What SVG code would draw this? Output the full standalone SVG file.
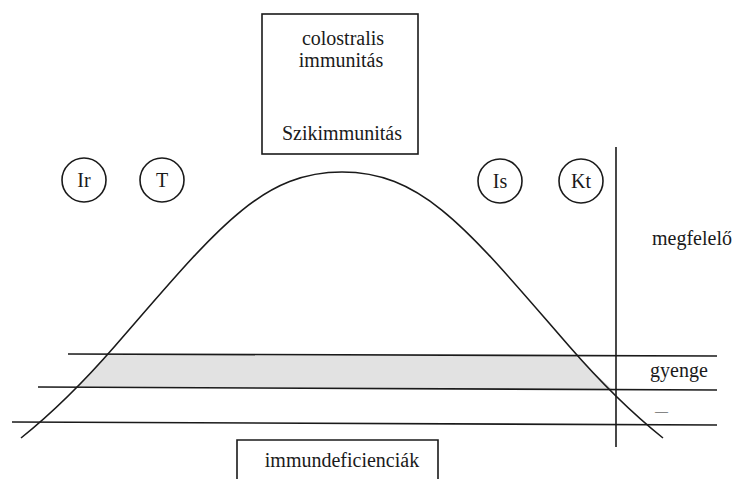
<svg xmlns="http://www.w3.org/2000/svg" width="738" height="479" viewBox="0 0 738 479">
<style>
.ln{fill:none;stroke:#1a1a1a;stroke-width:1.6}
.bx{fill:#fff;stroke:#1a1a1a;stroke-width:1.6}
.t{font-family:"Liberation Serif","Times New Roman",serif;font-size:20px;fill:#1a1a1a}
.c{text-anchor:middle}
</style>
<rect width="738" height="479" fill="#fff"/>
<g id="band">
<polygon points="108,355 576,356 612,389 77,388" fill="#e2e2e2"/>
</g>
<g id="connectors">
<path class="ln" d="M21,438 C51,414 85,380.5 115,346 C215,231 260,172 342,172 C424,172 469,231 569,346 C599,380.5 633,414 663,438"/>
<line class="ln" x1="68" y1="354" x2="717" y2="356"/>
<line class="ln" x1="38" y1="387" x2="717" y2="390"/>
<line class="ln" x1="12" y1="422" x2="717" y2="425"/>
<line class="ln" x1="616" y1="147" x2="616" y2="447"/>
</g>
<g id="top-box">
<rect class="bx" x="262" y="14" width="156" height="140"/>
<text class="t c" x="343" y="45">colostralis</text>
<text class="t c" x="341" y="67">immunitás</text>
<text class="t c" x="342" y="140">Szikimmunitás</text>
</g>
<g id="node-Ir">
<circle class="bx" cx="84" cy="180" r="22"/>
<text class="t c" x="84" y="187">Ir</text>
</g>
<g id="node-T">
<circle class="bx" cx="162" cy="180" r="22"/>
<text class="t c" x="162" y="187">T</text>
</g>
<g id="node-Is">
<circle class="bx" cx="500" cy="181" r="22"/>
<text class="t c" x="500" y="188">Is</text>
</g>
<g id="node-Kt">
<circle class="bx" cx="581" cy="181" r="22"/>
<text class="t c" x="581" y="188">Kt</text>
</g>
<g id="labels">
<text class="t" x="652" y="245">megfelelő</text>
<text class="t" x="650" y="377">gyenge</text>
<text class="t" x="655" y="415" style="font-size:13px">—</text>
</g>
<g id="bottom-box">
<path class="ln" d="M237,485 V440 H438 V485"/>
<text class="t c" x="342" y="467">immundeficienciák</text>
</g>
</svg>
